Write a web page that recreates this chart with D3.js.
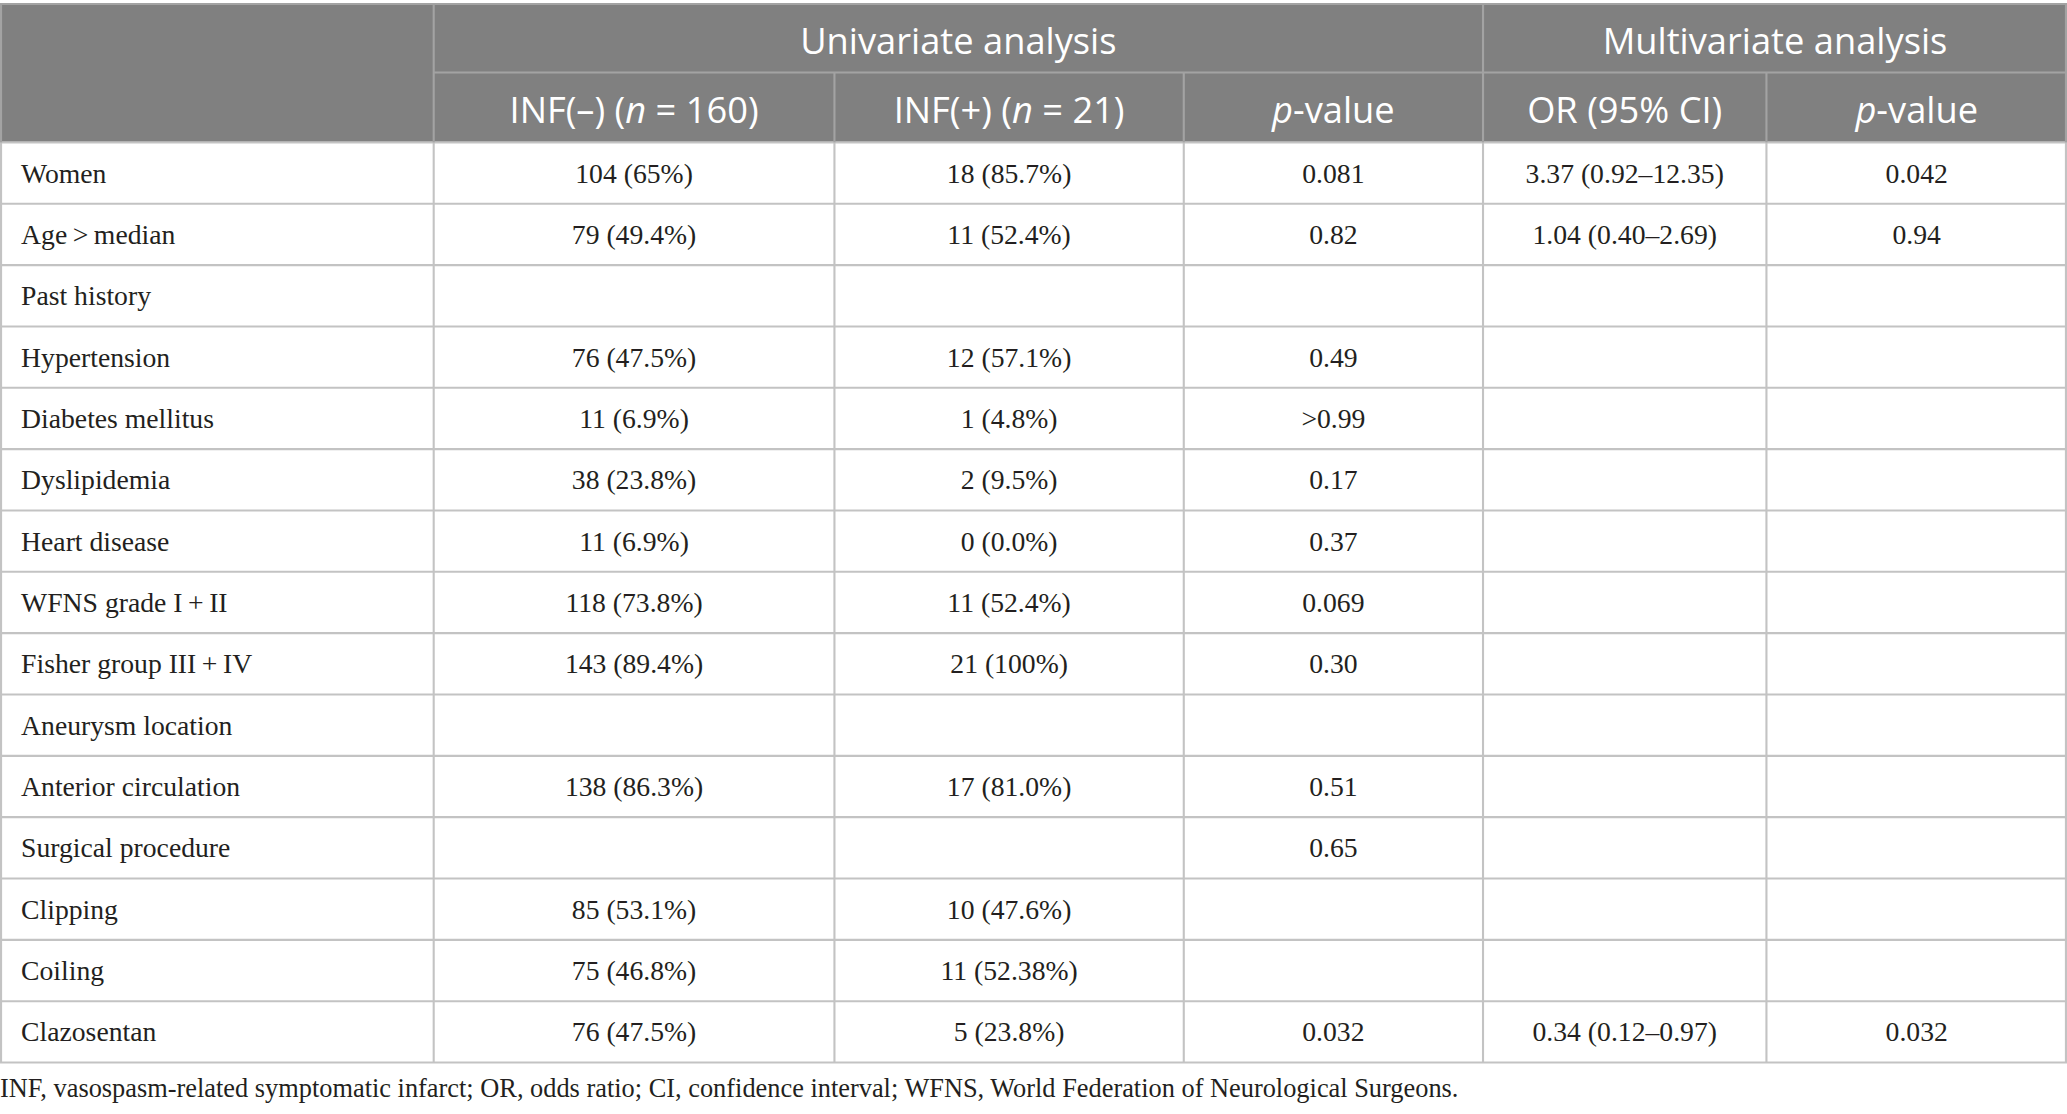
<!DOCTYPE html>
<html>
<head>
<meta charset="utf-8">
<script src="https://cdn.jsdelivr.net/npm/d3@7"></script>
<style>
  body { margin: 0; background: #fff; }
  svg { display: block; }
</style>
</head>
<body>
<svg id="chart"></svg>
<script>
// table content
const groupHeaders = ["Univariate analysis", "Multivariate analysis"];
const rowLabels = ["Women", "Age\u2009>\u2009median", "Past history", "Hypertension", "Diabetes mellitus",
    "Dyslipidemia", "Heart disease", "WFNS grade I\u2009+\u2009II", "Fisher group III\u2009+\u2009IV",
    "Aneurysm location", "Anterior circulation", "Surgical procedure", "Clipping", "Coiling", "Clazosentan"];
const infNeg = ["104 (65%)", "79 (49.4%)", "", "76 (47.5%)", "11 (6.9%)", "38 (23.8%)", "11 (6.9%)",
    "118 (73.8%)", "143 (89.4%)", "", "138 (86.3%)", "", "85 (53.1%)", "75 (46.8%)", "76 (47.5%)"];
const infPos = ["18 (85.7%)", "11 (52.4%)", "", "12 (57.1%)", "1 (4.8%)", "2 (9.5%)", "0 (0.0%)",
    "11 (52.4%)", "21 (100%)", "", "17 (81.0%)", "", "10 (47.6%)", "11 (52.38%)", "5 (23.8%)"];
const pUni = ["0.081", "0.82", "", "0.49", ">0.99", "0.17", "0.37", "0.069", "0.30", "", "0.51", "0.65", "", "", "0.032"];
const orCI = ["3.37 (0.92\u201312.35)", "1.04 (0.40\u20132.69)", "", "", "", "", "", "", "", "", "", "", "", "", "0.34 (0.12\u20130.97)"];
const pMulti = ["0.042", "0.94", "", "", "", "", "", "", "", "", "", "", "", "", "0.032"];
const footnote = "INF, vasospasm-related symptomatic infarct; OR, odds ratio; CI, confidence interval; WFNS, World Federation of Neurological Surgeons.";

const W = 1568, H = 845;
const colEdges = [0, 329, 633, 898, 1125, 1340, 1568];
const yTop = 3, yHead1 = 55, yHead2 = 108, yBottom = 806;
const headBg = "#808080", gridCol = "#c3c3c3", headLine = "#a3a3a3";

const svg = d3.select("#chart")
    .attr("width", 2067)
    .attr("height", 1114)
    .attr("viewBox", `0 0 ${W} ${H}`);

const y = d3.scaleBand().domain(d3.range(rowLabels.length)).range([yHead2, yBottom]);
const colMid = i => (colEdges[i] + colEdges[i + 1]) / 2;

// header background
svg.append("rect").attr("x", 0).attr("y", yTop).attr("width", W).attr("height", yHead2 - yTop).attr("fill", headBg);

const serif = "'Liberation Serif', 'Times New Roman', serif";
const sans = "'Open Sans', 'Noto Sans', sans-serif";

// header texts
const hdr = svg.append("g").attr("fill", "#fff").attr("font-family", sans).attr("font-size", 27.5)
    .attr("text-anchor", "middle").attr("dominant-baseline", "central");
hdr.append("text").attr("x", (colEdges[1] + colEdges[4]) / 2).attr("y", (yTop + yHead1) / 2 + 1).text(groupHeaders[0]);
hdr.append("text").attr("x", (colEdges[4] + colEdges[6]) / 2).attr("y", (yTop + yHead1) / 2 + 1).text(groupHeaders[1]);

const subHeads = [
    [["INF(\u2013) (", false], ["n", true], [" = 160)", false]],
    [["INF(+) (", false], ["n", true], [" = 21)", false]],
    [["p", true], ["-value", false]],
    [["OR (95% CI)", false]],
    [["p", true], ["-value", false]]
];
subHeads.forEach((parts, i) => {
    const t = hdr.append("text").attr("x", colMid(i + 1)).attr("y", (yHead1 + yHead2) / 2 + 1);
    parts.forEach(p => t.append("tspan").attr("font-style", p[1] ? "italic" : "normal").text(p[0]));
});

// body cells
const cols = [infNeg, infPos, pUni, orCI, pMulti];
const body = svg.append("g").attr("font-family", serif).attr("font-size", 21).attr("fill", "#231f20")
    .attr("dominant-baseline", "central");
body.selectAll("text.lbl").data(rowLabels).join("text")
    .attr("class", "lbl")
    .attr("x", 16)
    .attr("y", (d, i) => y(i) + y.bandwidth() / 2)
    .text(d => d);
cols.forEach((col, c) => {
    body.selectAll("text.c" + c).data(col).join("text")
        .attr("class", "c" + c)
        .attr("text-anchor", "middle")
        .attr("x", colMid(c + 1))
        .attr("y", (d, i) => y(i) + y.bandwidth() / 2)
        .text(d => d);
});

// grid lines
const clampX = d => Math.min(Math.max(d, 0.8), W - 0.8);
const grid = svg.append("g").attr("stroke", gridCol).attr("stroke-width", 1.6);
grid.selectAll("line.h").data(d3.range(rowLabels.length + 1)).join("line")
    .attr("x1", 0).attr("x2", W)
    .attr("y1", i => i < rowLabels.length ? y(i) : yBottom)
    .attr("y2", i => i < rowLabels.length ? y(i) : yBottom);
grid.selectAll("line.v").data(colEdges).join("line")
    .attr("x1", clampX).attr("x2", clampX)
    .attr("y1", yHead2).attr("y2", yBottom);

const hgrid = svg.append("g").attr("stroke", headLine).attr("stroke-width", 1.6);
hgrid.append("line").attr("x1", 0).attr("x2", W).attr("y1", yTop).attr("y2", yTop);
hgrid.append("line").attr("x1", colEdges[1]).attr("x2", W).attr("y1", yHead1).attr("y2", yHead1);
[0, 1, 4, 6].forEach(i => {
    const x = clampX(colEdges[i]);
    hgrid.append("line").attr("x1", x).attr("x2", x).attr("y1", yTop).attr("y2", yHead2);
});
[2, 3, 5].forEach(i => {
    hgrid.append("line").attr("x1", colEdges[i]).attr("x2", colEdges[i]).attr("y1", yHead1).attr("y2", yHead2);
});

// footnote
svg.append("text").attr("x", 0).attr("y", 826).attr("dominant-baseline", "central")
    .attr("font-family", serif).attr("font-size", 20).attr("fill", "#231f20")
    .text(footnote);
</script>
</body>
</html>
